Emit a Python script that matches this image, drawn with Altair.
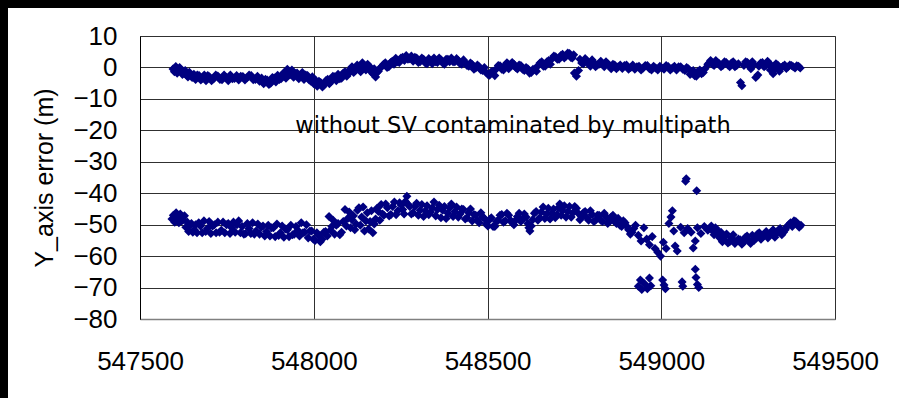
import altair as alt
import pandas as pd

# ---- data ----
x_without = [547595, 547603, 547610, 547618, 547626, 547634, 547642, 547650, 547660, 547670,
             547680, 547690, 547700, 547712, 547724, 547736, 547748, 547760, 547772, 547784,
             547796, 547808, 547820, 547832, 547844, 547856, 547866, 547876, 547886, 547896,
             547906, 547916, 547924, 547932, 547942, 547952, 547962, 547972, 547982, 547992,
             548000, 548010, 548020, 548030, 548040, 548050, 548060, 548070, 548080, 548090,
             548100, 548110, 548120, 548130, 548140, 548150, 548160, 548170, 548178, 548186,
             548196, 548206, 548216, 548226, 548236, 548246, 548256, 548266, 548276, 548286,
             548296, 548306, 548316, 548326, 548336, 548346, 548356, 548366, 548376, 548386,
             548396, 548406, 548416, 548426, 548436, 548446, 548456, 548466, 548476, 548486,
             548496, 548506, 548516, 548526, 548536, 548546, 548556, 548566, 548576, 548586,
             548596, 548606, 548616, 548626, 548636, 548646, 548656, 548666, 548676, 548686,
             548696, 548706, 548716, 548726, 548736, 548744, 548750, 548756, 548762, 548766,
             548776, 548786, 548796, 548806, 548816, 548826, 548836, 548846, 548856, 548866,
             548876, 548888, 548900, 548912, 548924, 548936, 548948, 548960, 548972, 548984,
             548996, 549008, 549020, 549032, 549044, 549056, 549068, 549078, 549088, 549096,
             549106, 549116, 549126, 549134, 549142, 549152, 549162, 549172, 549182, 549192,
             549202, 549212, 549222, 549228, 549232, 549238, 549248, 549258, 549266, 549272,
             549278, 549286, 549296, 549306, 549314, 549322, 549330, 549340, 549350, 549360,
             549370, 549380, 549390, 549400]
y_without = [-0.5, 0.3, -1.2, -0.8, -1.8, -2.5, -1.5, -3.2, -3.8, -2.6,
             -3.4, -4.2, -3.0, -3.6, -2.7, -3.9, -3.2, -2.4, -3.5, -4.0,
             -2.9, -3.3, -2.6, -3.8, -4.4, -5.2, -4.0, -5.0, -3.4, -2.5,
             -3.6, -1.5, -0.6, -2.2, -3.1, -1.8, -2.9, -3.8, -2.6, -4.4,
             -5.2, -6.0, -4.8, -5.6, -3.8, -4.5, -3.0, -2.2, -3.4, -1.4,
             -2.0, 0.2, -1.0, -0.2, 1.5, -0.8, 0.4, -2.0, -3.0, -1.2,
             0.3, 1.5, 0.2, 2.0, 2.9, 1.6, 3.2, 3.8, 2.8, 2.0,
             3.0, 1.8, 2.6, 1.2, 2.2, 3.0, 1.6, 2.4, 1.0, 2.6,
             3.0, 1.8, 2.2, 1.0, 1.6, 0.4, 0.9, -0.2, 0.2, -1.0,
             -1.6, -2.5, -1.2, -0.4, 0.5, -0.8, 1.5, 0.3, 1.0, -0.5,
             0.6, -1.0, -0.4, -1.6, -0.6, 0.6, 1.8, 0.4, 2.2, 2.8,
             3.4, 2.6, 4.2, 3.6, 4.4, 3.0, -1.8, -2.8, -1.0, 2.6,
             1.2, 2.2, 0.4, 1.6, 0.8, 2.0, 0.2, 1.2, -0.4, 0.8,
             0.2, -0.3, 0.8, 0.0, -0.6, 0.4, -0.2, 0.6, -0.8, -0.2,
             0.4, -0.6, 0.3, -0.2, -0.8, 0.2, -1.0, -0.4, -1.8, -2.6,
             -1.2, -2.0, -0.4, 1.0, 2.2, 0.6, 1.6, 0.2, 1.8, 0.8,
             1.4, 0.2, 1.2, -4.8, -5.8, 0.6, 1.6, -0.4, 1.0, -3.2,
             -2.4, 1.4, 0.2, 2.0, -0.8, -2.0, 1.2, -1.2, 0.4, -0.3,
             0.8, 0.2, 0.5, -0.2]

# second pass of readings inside the upper band
x_without_b = [547599, 547607, 547614, 547622, 547630, 547638, 547646,
               547655, 547665, 547675, 547685, 547695, 547706, 547718, 547730, 547742, 547754,
               547766, 547778, 547790, 547802, 547814, 547826, 547838, 547850, 547861, 547871,
               547881, 547891, 547901,
               547911, 547920, 547928, 547937, 547947, 547957, 547967, 547977, 547987, 547996,
               548005, 548015, 548025, 548035, 548045, 548055, 548065, 548075, 548085, 548095,
               548105,
               548115, 548125, 548135, 548145, 548155, 548165, 548174, 548182, 548191,
               548201, 548211, 548221, 548231, 548241, 548251, 548261, 548271, 548281, 548291,
               548301, 548311, 548321, 548331, 548341, 548351, 548361, 548371, 548381, 548391,
               548401,
               548411, 548421, 548431, 548441, 548451, 548461, 548471, 548481, 548491, 548501,
               548511, 548521, 548531, 548541, 548551, 548561, 548571, 548581, 548591, 548601,
               548611, 548621, 548631, 548641, 548651, 548661, 548671, 548681, 548691,
               548701, 548711, 548721, 548731, 548740, 548748,
               548771, 548781, 548791, 548801, 548811, 548821, 548831, 548841, 548851, 548861,
               548871, 548882,
               548894, 548906, 548918, 548930, 548942, 548954, 548966, 548978, 548990, 549002,
               549014, 549026, 549038, 549050, 549062, 549073,
               549083, 549092, 549101, 549111, 549121,
               549138, 549147, 549157, 549167, 549177, 549187, 549197, 549207, 549217,
               549243, 549253, 549262, 549281, 549291, 549301, 549310, 549318, 549326, 549335,
               549345, 549355, 549365, 549375, 549385, 549395]
y_without_b = [-1.4, -1.8, 0.0, -2.2, -1.0, -3.0, -2.6,
               -2.2, -2.4, -4.0, -2.4, -2.6, -4.2, -2.4, -3.8, -2.4, -4.2,
               -3.6, -2.6, -2.8, -4.0, -2.4, -3.9, -2.8, -3.4, -3.8, -5.4,
               -3.2, -4.6, -3.8,
               -2.0, -3.4, -1.8, -0.8, -2.0, -3.6, -1.6, -2.4, -4.0, -3.0,
               -4.0, -4.4, -6.2, -4.2, -5.2, -2.8, -4.2, -3.6, -1.8, -2.8,
               -0.6,
               -1.6, 0.8, -1.4, 0.0, 1.0, -1.4, -0.4, -1.6, -0.2,
               1.0, 0.0, 1.6, 1.0, 1.8, 3.0, 2.2, 2.6, 3.6, 3.2,
               1.6, 3.0, 1.4, 2.8, 1.2, 1.8, 3.0, 1.4, 2.6, 1.8,
               1.8,
               2.8, 1.2, 2.4, 0.6, 1.4, -0.6, 0.8, -0.8, 0.0, -2.2,
               -1.4, -2.6, 0.6, -0.6, 0.8, -0.4, 1.6, 0.0, 0.8, -0.6,
               0.0, -1.8, -0.6, -1.2, 1.4, 0.4, 1.8, 1.0, 3.6,
               2.6, 3.8, 3.0, 4.6, 3.2, 4.0,
               1.4, 2.8, 1.2, 2.4, 0.2, 1.0, 1.2, 1.8, 0.6, 1.0,
               -0.4, 0.8,
               0.6, -0.6, 0.8, 0.2, -0.8, 0.6, -0.4, 0.4, -0.8, -0.2,
               0.6, -0.8, 0.4, 0.2, -0.6, 0.0,
               -2.2, -1.0, -2.8, -0.8, -1.6,
               1.4, 1.0, 2.2, 1.2, 0.6, 1.6, 0.2, 1.8, 0.6,
               1.8, 0.6, 1.8, 0.4, 1.6, 0.6, 1.4, 0.0, -0.4, 0.8,
               0.0, 0.8, 0.2, 0.6, -0.2, 0.4]

x_with = [547592, 547600, 547608, 547616, 547624, 547632, 547640, 547648, 547656, 547664,
          547674, 547684, 547694, 547704, 547714, 547724, 547734, 547744, 547754, 547764,
          547774, 547784, 547794, 547804, 547814, 547824, 547834, 547844, 547854, 547864,
          547874, 547884, 547894, 547904, 547914, 547924, 547934, 547944, 547954, 547964,
          547974, 547984, 547994, 548004, 548014, 548024, 548034, 548044, 548052, 548060,
          548070, 548080, 548090, 548098, 548106, 548114, 548122, 548130, 548138, 548146,
          548154, 548162, 548170, 548178, 548186, 548194, 548202, 548212, 548222, 548232,
          548242, 548252, 548260, 548268, 548276, 548286, 548296, 548306, 548316, 548326,
          548336, 548346, 548356, 548366, 548376, 548386, 548396, 548406, 548416, 548426,
          548436, 548446, 548456, 548466, 548476, 548486, 548496, 548506, 548516, 548526,
          548536, 548546, 548556, 548566, 548576, 548586, 548596, 548606, 548616, 548622,
          548630, 548640, 548650, 548660, 548670, 548680, 548690, 548700, 548708, 548716,
          548726, 548736, 548746, 548756, 548766, 548776, 548786, 548796, 548806, 548816,
          548826, 548836, 548846, 548856, 548866, 548876, 548886, 548896, 548906, 548916,
          548926, 548934, 548942, 548950, 548958, 548966, 548974, 548982, 548990, 548998,
          549006, 549014, 549022, 549028, 549032, 549036, 549040, 549046, 549056, 549066,
          549076, 549086, 549092, 549098, 549104, 549114, 549124, 549134, 549144, 549152,
          549160, 549168, 549176, 549184, 549192, 549202, 549212, 549222, 549232, 549242,
          549252, 549262, 549272, 549282, 549292, 549302, 549312, 549322, 549332, 549342,
          549352, 549362, 549372, 549382, 549392, 549402,
          549070, 549072, 549102,
          548934, 548940, 548944, 548952, 548960, 548966, 548970,
          549004, 549008, 549012, 549060, 549062,
          549098, 549100, 549104, 549108]
y_with = [-48.2, -49.2, -47.6, -46.6, -48.4, -50.8, -52.2, -49.6, -51.6, -52.6,
          -50.4, -48.8, -51.2, -52.8, -50.0, -49.2, -51.8, -52.6, -49.6, -51.0,
          -52.4, -48.8, -50.6, -52.8, -51.2, -49.4, -52.0, -53.0, -50.4, -52.2,
          -53.6, -51.0, -49.8, -52.6, -54.0, -51.6, -50.2, -53.0, -51.8, -49.4,
          -52.4, -54.2, -52.0, -55.0, -53.4, -54.6, -52.2, -47.4, -50.6, -53.0,
          -49.6, -52.4, -45.2, -48.0, -51.0, -47.2, -49.8, -44.6, -47.6, -52.0,
          -46.2, -49.0, -52.6, -48.2, -45.8, -43.6, -47.0, -44.6, -46.8, -42.8,
          -45.6, -43.8, -46.6, -41.0, -44.2, -46.2, -43.2, -45.4, -47.4, -44.0,
          -46.0, -42.8, -45.2, -47.8, -44.2, -46.4, -43.4, -45.8, -47.6, -45.0,
          -48.2, -46.2, -48.8, -47.0, -49.4, -47.6, -49.8, -48.4, -50.6, -49.0,
          -47.0, -49.2, -46.4, -48.6, -50.0, -47.4, -49.0, -46.6, -49.6, -52.0,
          -48.4, -45.8, -47.8, -44.4, -46.6, -48.2, -45.0, -46.8, -43.4, -45.6,
          -47.6, -44.2, -46.2, -44.8, -48.4, -46.2, -47.8, -45.6, -49.0, -47.0,
          -48.6, -46.4, -49.6, -47.6, -49.0, -48.0, -50.6, -49.4, -51.6, -52.4,
          -50.2, -53.4, -55.2, -51.0, -54.6, -56.4, -53.8, -57.6, -58.8, -60.0,
          -55.6, -57.6, -49.6, -47.6, -45.6, -52.0, -56.8, -58.4, -50.8, -52.6,
          -51.2, -52.4, -57.4, -55.2, -51.0, -52.8, -50.6, -51.8, -50.4, -53.2,
          -51.6, -54.2, -55.4, -53.6, -55.8, -54.2, -56.0, -54.6, -56.2, -54.0,
          -55.0, -53.4, -54.4, -52.6, -53.8, -52.2, -53.4, -51.6, -52.8, -51.2,
          -52.4, -50.6, -49.4, -48.8, -49.6, -50.2,
          -36.2, -35.4, -39.2,
          -69.6, -67.6, -70.6, -68.8, -70.4, -67.0, -69.4,
          -67.6, -69.2, -70.4, -68.2, -69.6,
          -64.2, -66.8, -69.0, -70.0]

# second pass of readings inside the thick lower band
x_with_b = [547596, 547604, 547612, 547620, 547628, 547636, 547644, 547652, 547660, 547669,
            547679, 547689, 547699, 547709, 547719, 547729, 547739, 547749, 547759, 547769,
            547779, 547789, 547799, 547809, 547819, 547829, 547839, 547849, 547859, 547869,
            547879, 547889, 547899, 547909, 547919, 547929, 547939, 547949, 547959, 547969,
            547979, 547989, 547999, 548009, 548019, 548029, 548039, 548048, 548056, 548065,
            548075, 548085, 548094, 548102, 548110, 548118, 548126, 548134, 548142, 548150,
            548158, 548166, 548174, 548182, 548190, 548198, 548207, 548217, 548227, 548237,
            548247, 548256, 548264, 548272, 548281, 548291, 548301, 548311, 548321, 548331,
            548341, 548351, 548361, 548371, 548381, 548391, 548401, 548411, 548421, 548431,
            548441, 548451, 548461, 548471, 548481, 548491, 548501, 548511, 548521, 548531,
            548541, 548551, 548561, 548571, 548581, 548591, 548601, 548611, 548619, 548626,
            548635, 548645, 548655, 548665, 548675, 548685, 548695, 548704, 548712, 548721,
            548731, 548741, 548751, 548761, 548771, 548781, 548791, 548801, 548811, 548821,
            548831, 548841, 548851, 548861, 548871, 548881, 548891, 548901, 548911, 548921,
            549148, 549156, 549164, 549172, 549180, 549188, 549197, 549207, 549217, 549227,
            549237, 549247, 549257, 549267, 549277, 549287, 549297, 549307, 549317, 549327,
            549337, 549347, 549357, 549367, 549377, 549387, 549397]
y_with_b = [-47.0, -46.2, -49.4, -48.8, -47.2, -49.2, -50.2, -52.4, -50.0, -49.4,
            -52.6, -52.2, -49.0, -50.4, -52.6, -52.4, -49.2, -50.0, -52.8, -49.2,
            -50.0, -52.6, -53.0, -49.6, -52.8, -53.0, -49.8, -50.8, -53.6, -50.2,
            -51.0, -53.8, -53.4, -50.4, -51.4, -53.8, -53.2, -50.6, -53.6, -52.6,
            -50.0, -52.0, -54.6, -52.6, -55.4, -52.4, -53.6, -51.8, -48.6, -50.2,
            -53.2, -49.0, -50.4, -46.0, -48.4, -51.6, -45.4, -50.2, -44.4, -48.8,
            -51.4, -45.6, -49.8, -44.8, -48.6, -46.6, -43.4, -47.2, -44.2, -46.8,
            -43.0, -45.2, -42.6, -43.6, -46.6, -44.2, -47.0, -43.6, -45.6, -46.8,
            -44.6, -47.2, -43.8, -45.4, -48.0, -44.6, -47.4, -44.4, -46.6, -45.2,
            -47.8, -45.0, -46.8, -48.6, -46.2, -48.0, -50.4, -47.8, -50.6, -48.6,
            -46.8, -48.8, -47.0, -49.4, -48.6, -46.4, -48.2, -47.6, -51.0, -50.4,
            -46.4, -48.6, -46.0, -48.0, -44.8, -46.4, -47.8, -44.6, -47.0, -44.0,
            -45.8, -47.6, -44.2, -46.4, -47.4, -45.8, -48.6, -46.8, -48.6, -47.0,
            -49.0, -47.4, -48.8, -47.0, -49.6, -50.2, -48.8, -50.6, -53.0, -51.2,
            -52.0, -51.0, -53.0, -52.4, -54.6, -53.0, -55.4, -53.2, -55.2, -54.8,
            -55.6, -53.6, -56.0, -55.0, -53.0, -54.6, -52.8, -54.2, -52.4, -54.0,
            -51.8, -53.2, -51.6, -50.0, -50.6, -49.0, -50.8]

x_ticks = [547500, 548000, 548500, 549000, 549500]
y_ticks = [-80, -70, -60, -50, -40, -30, -20, -10, 0, 10]
note = "without SV contaminated by multipath"
y_title = "Y_axis error (m)"

df = pd.concat([
    pd.DataFrame({"x": x_without, "y": y_without, "s": "without"}),
    pd.DataFrame({"x": x_without_b, "y": y_without_b, "s": "without"}),
    pd.DataFrame({"x": x_with, "y": y_with, "s": "with"}),
    pd.DataFrame({"x": x_with_b, "y": y_with_b, "s": "with"}),
])

FONT = "Liberation Sans"
W, H = 695, 283

xs = alt.Scale(domain=[547500, 549500], nice=False, zero=False)
ys = alt.Scale(domain=[-80, 10], nice=False, zero=False)

points = alt.Chart(df).mark_point(
    shape="diamond", filled=True, size=82, color="#000080", opacity=1
).encode(
    x=alt.X("x:Q", scale=xs, axis=alt.Axis(
        values=x_ticks, format="d", title=None, grid=True, gridColor="#303030",
        domainColor="#808080", domainWidth=1.5, ticks=False, labelPadding=29,
        labelFlush=False, labelOverlap=False,
        labelFontSize=26, labelFont=FONT, labelColor="black")),
    y=alt.Y("y:Q", scale=ys, axis=alt.Axis(
        values=y_ticks, format="d", title=y_title, grid=True, gridColor="#303030",
        domainColor="black", ticks=False, labelPadding=23,
        labelFlush=False, labelOverlap=False,
        labelFontSize=26, labelFont=FONT, labelColor="black",
        titleFont=FONT, titleFontSize=25, titleFontWeight="normal", titleColor="black",
        titleX=-88, titleY=H / 2, titleBaseline="alphabetic", titleAlign="center")),
)

label = alt.Chart(pd.DataFrame({"t": [note]})).mark_text(
    font="DejaVu Sans", fontSize=22.5, color="black", align="center", baseline="middle"
).encode(x=alt.value(373), y=alt.value(90), text="t:N")

# black strips along the top and left edges of the picture
frame_src = pd.DataFrame({"a": [0]})
top_strip = alt.Chart(frame_src).mark_rect(color="black").encode(
    x=alt.value(-140), x2=alt.value(W + 64), y=alt.value(-36), y2=alt.value(-28))
left_strip = alt.Chart(frame_src).mark_rect(color="black").encode(
    x=alt.value(-140), x2=alt.value(-132), y=alt.value(-36), y2=alt.value(H + 79))

chart = alt.layer(points, label, top_strip, left_strip).properties(
    width=W, height=H,
    padding={"left": 140, "top": 36, "right": 64, "bottom": 79},
    autosize=alt.AutoSizeParams(type="none"),
    background="white",
).configure_view(stroke="#808080", strokeWidth=1)

chart.save("out.html", embed_options={"renderer": "svg", "actions": False})
